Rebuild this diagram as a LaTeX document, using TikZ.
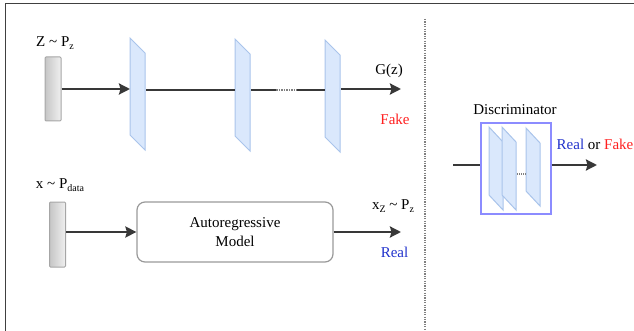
\documentclass[tikz,border=0pt]{standalone}
\usepackage{fontspec}
\setmainfont{Liberation Serif}
\usetikzlibrary{arrows.meta}
\definecolor{planefill}{HTML}{DAE8FC}
\definecolor{planedraw}{HTML}{A9C4EB}
\definecolor{discblue}{HTML}{8C8CFF}
\definecolor{realblue}{HTML}{2233CC}
\definecolor{fakered}{HTML}{FF2020}
\definecolor{linegray}{HTML}{383838}
\newcommand\myplane[5]{% name, x, y, edge height, width
  \filldraw[plane] (#2,#3) -- ++(#5,15) -- ++(0,#4) -- ++(-#5,-15) -- cycle;
}
\newcommand\lowsub[1]{\raisebox{-0.35ex}{\fontsize{10}{10}\selectfont #1}}
\begin{document}
\begin{tikzpicture}[x=1pt,y=-1pt,font=\fontsize{15}{17}\selectfont,
  conn/.style={draw=linegray,line width=2.8pt},
  arr/.style={conn,-{Stealth[length=11pt,width=11pt,inset=1.5pt]}},
  plane/.style={fill=planefill,draw=planedraw,line width=1pt},
  bar/.style={draw=gray!70,left color=gray!45,right color=gray!12,rounded corners=1pt,minimum width=16pt,inner sep=0pt,line width=1pt},
  lbl/.style={inner sep=0pt}]
\useasboundingbox (0,0) rectangle (634,331);
\draw[line width=1pt,draw=gray!50!black] (5,331) -- (5,4) -- (634,4);

% ---- top row: generator
\node[bar,minimum height=64pt] (zbar) at (53,89) {};
\node[lbl] (zl) at (55,43) {Z \textasciitilde{} P\lowsub{z}};
\myplane{p1}{130}{38}{97}{15}
\myplane{p2}{235}{39}{97}{15}
\myplane{p3}{325}{40}{97}{15}
\coordinate (p1l) at (130,89);
\coordinate (p1r) at (146,90);
\coordinate (p2l) at (235,90);
\coordinate (p2r) at (251,90);
\coordinate (d1) at (276,90);
\coordinate (d2) at (297,90);
\coordinate (p3l) at (325,90);
\coordinate (p3r) at (341,89);
\coordinate (gout) at (401,89);
\draw[arr] (zbar.east) -- (p1l);
\draw[conn] (p1r) -- (p2l);
\draw[conn] (p2r) -- (d1);
\draw[draw=gray,line width=2pt,dash pattern=on 1.5pt off 1pt] (d1) -- (d2);
\draw[conn] (d2) -- (p3l);
\draw[arr] (p3r) -- (gout);
\node[lbl] (gz) at (389,71) {G(z)};
\node[lbl,text=fakered] (fake1) at (395,119) {Fake};

% ---- separator
\coordinate (sep1) at (425,19);
\coordinate (sep2) at (425,331);
\draw[draw=gray,line width=1.6pt,dash pattern=on 1.2pt off 1.2pt] (sep1) -- (sep2);

% ---- bottom row: autoregressive model
\node[bar,minimum height=65pt] (xbar) at (57.5,234.5) {};
\node[lbl] (xl) at (60,185) {x \textasciitilde{} P\lowsub{data}};
\node[draw=gray!80,line width=1.2pt,rounded corners=8pt,minimum width=196pt,minimum height=60pt,align=center,inner sep=0pt,font=\fontsize{15}{19}\selectfont] (ar) at (235,232) {Autoregressive\\Model};
\coordinate (xout) at (401,232);
\draw[arr] (xbar.east |- 0,232) -- (ar.west);
\draw[arr] (ar.east) -- (xout);
\node[lbl] (xzl) at (393,206) {x\lowsub{Z} \textasciitilde{} P\lowsub{z}};
\node[lbl,text=realblue] (real1) at (394.5,252) {Real};

% ---- discriminator
\node[lbl] (dl) at (515,110) {Discriminator};
\node[draw=discblue,line width=1.3pt,minimum width=70pt,minimum height=91pt,inner sep=0pt] (disc) at (516,168.5) {};
\myplane{da}{489}{127}{68}{14}
\myplane{db}{502}{127}{68}{14}
\myplane{dc}{526}{128}{63}{14}
\coordinate (dd1) at (517,174);
\coordinate (dd2) at (526,174);
\draw[draw=gray,line width=1.5pt,dash pattern=on 1.2pt off 0.8pt] (dd1) -- (dd2);
\coordinate (din) at (453,165);
\coordinate (dout) at (597,165);
\draw[conn] (din) -- (disc.west |- din);
\draw[arr] (disc.east |- dout) -- (dout);
\node[lbl] (rf) at (595,144) {\textcolor{realblue}{Real} or \textcolor{fakered}{Fake}};
\end{tikzpicture}
\end{document}
